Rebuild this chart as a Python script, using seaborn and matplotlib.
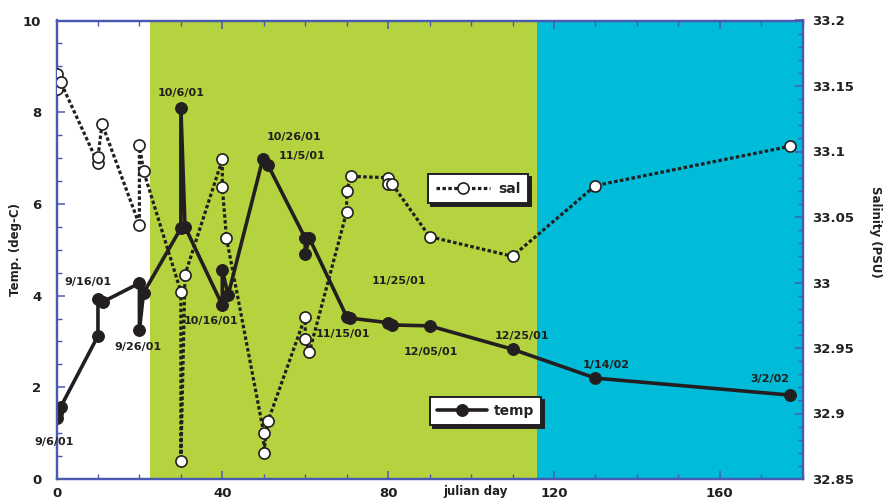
import matplotlib
matplotlib.use("Agg")
import matplotlib.pyplot as plt
import seaborn as sns
from matplotlib.ticker import MultipleLocator

# ---------------- data ----------------
temp_day = [0, 0, 1, 10, 10, 11.3, 20, 20, 21, 30, 30, 31, 40, 40, 41.4,
            49.8, 51, 60, 60, 61, 70, 70.7, 80, 81, 90, 110, 130, 177]
temp_val = [1.33, 1.44, 1.57, 3.12, 3.92, 3.87, 4.27, 3.25, 4.06, 5.47, 8.10, 5.50,
            3.79, 4.56, 4.01, 6.99, 6.85, 5.25, 4.91, 5.25, 3.54, 3.51, 3.41, 3.36,
            3.34, 2.83, 2.20, 1.83]

sal_day = [0, 0, 1, 10, 10, 11, 20, 20, 21, 30, 30, 31, 40, 40, 41, 50, 50, 51,
           60, 60, 61, 70, 70, 71, 80, 80, 81, 90, 110, 130, 177]
sal_val = [33.159, 33.148, 33.153, 33.091, 33.096, 33.121, 33.044, 33.105, 33.085,
           32.993, 32.864, 33.006, 33.094, 33.073, 33.034, 32.885, 32.870, 32.894,
           32.974, 32.957, 32.947, 33.054, 33.070, 33.081, 33.080, 33.075, 33.075,
           33.035, 33.020, 33.074, 33.104]

date_labels = ["9/6/01", "9/16/01", "9/26/01", "10/6/01", "10/16/01", "10/26/01",
               "11/5/01", "11/15/01", "11/25/01", "12/05/01", "12/25/01", "1/14/02",
               "3/2/02"]
# label placement (temperature-axis coordinates)
label_pos = [(-0.5, 0.81), (7.6, 4.30), (19.7, 2.88), (30.0, 8.42), (37.3, 3.45),
             (57.3, 7.46), (59.2, 7.04), (69.1, 3.16), (82.6, 4.32), (90.3, 2.77),
             (112.3, 3.12), (132.5, 2.49), (172.1, 2.18)]

x_ticks = [0, 40, 80, 120, 160]
x_ticklabels = ["0", "40", "80", "120", "160"]
temp_ticks = [0, 2, 4, 6, 8, 10]
temp_ticklabels = ["0", "2", "4", "6", "8", "10"]
sal_ticks = [32.85, 32.9, 32.95, 33.0, 33.05, 33.1, 33.15, 33.2]
sal_ticklabels = ["32.85", "32.9", "32.95", "33", "33.05", "33.1", "33.15", "33.2"]

season_edges = [22.5, 116, 180]
season_colors = ["#b5d33e", "#00bcd8"]

# ---------------- style ----------------
sns.set_style("ticks")
plt.rcParams["font.family"] = ["DejaVu Sans"]
plt.rcParams["font.weight"] = "bold"
plt.rcParams["axes.labelweight"] = "bold"

ink = "#231f20"
axis_blue = "#4a5ab0"

fig = plt.figure(figsize=(8.83, 4.99), dpi=100)
ax = fig.add_axes([56.5 / 883, 1 - 479 / 499, (802.7 - 56.5) / 883, (479 - 20.5) / 499])
ax.set_facecolor("white")

for i in range(2):
    ax.axvspan(season_edges[i], season_edges[i + 1], color=season_colors[i], lw=0, zorder=0)

sns.lineplot(x=temp_day, y=temp_val, ax=ax, sort=False, estimator=None, errorbar=None,
             color=ink, lw=2.6, marker="o", markersize=8.5, markeredgecolor=ink,
             markerfacecolor=ink, zorder=3)
temp_line = ax.get_lines()[-1]

ax.set_xlim(0, 180)
ax.set_ylim(0, 10)
ax.set_xticks(x_ticks)
ax.set_xticklabels(x_ticklabels)
ax.xaxis.set_minor_locator(MultipleLocator(10))
ax.set_yticks(temp_ticks)
ax.set_yticklabels(temp_ticklabels)
ax.yaxis.set_minor_locator(MultipleLocator(0.5))

ax2 = ax.twinx()
sns.lineplot(x=sal_day, y=sal_val, ax=ax2, sort=False, estimator=None, errorbar=None,
             color=ink, lw=2.3, linestyle=(0, (1.1, 0.75)), marker="o", markersize=8,
             markerfacecolor="white", markeredgecolor=ink, markeredgewidth=1.2, zorder=3)
sal_line = ax2.get_lines()[-1]
ax2.set_ylim(32.85, 33.2)
ax2.set_yticks(sal_ticks)
ax2.set_yticklabels(sal_ticklabels)
ax2.yaxis.set_minor_locator(MultipleLocator(0.01))
ax2.set_ylim(32.85, 33.2)

# ticks and spines
for a in (ax, ax2):
    for s in a.spines.values():
        s.set_visible(True)
        s.set_color(axis_blue)
        s.set_linewidth(1.6)
ax.tick_params(axis="x", which="both", direction="in", top=True, bottom=True,
               color=axis_blue, labelcolor=ink, labelsize=9.5, pad=6)
ax.tick_params(axis="y", which="both", direction="in", left=True, right=False,
               color=axis_blue, labelcolor=ink, labelsize=9.5, pad=11)
ax2.tick_params(axis="y", which="both", direction="in", left=False, right=True,
                color=axis_blue, labelcolor=ink, labelsize=9.5, pad=7)
for a in (ax, ax2):
    a.tick_params(which="major", length=6, width=1.1)
    a.tick_params(which="minor", length=3.6, width=1.0)

# labels
ax.set_xlabel("julian day", fontsize=8.5, color=ink, fontweight="bold")
ax.xaxis.set_label_coords(0.562, -0.013)
ax.set_ylabel("Temp. (deg-C)", fontsize=8.5, color=ink, fontweight="bold",
              ha="center", va="center", rotation=90, rotation_mode="default")
ax.yaxis.set_label_coords(-0.055, 0.5)
ax2.set_ylabel("Salinity (PSU)", fontsize=8.5, color=ink, fontweight="bold",
               ha="center", va="center", rotation=270, rotation_mode="default")
ax2.yaxis.set_label_coords(1.098, 0.54)

# date annotations
for txt, (lx, ly) in zip(date_labels, label_pos):
    ax2.text(lx, ly, txt, transform=ax.transData, ha="center", va="center",
             fontsize=8, fontweight="bold", color=ink, zorder=5)

# legends
shadow = {"color": ink, "alpha": 1.0}
leg_sal = ax2.legend(handles=[sal_line], labels=["sal"], loc="upper left",
                     bbox_to_anchor=(428 / 883, 1 - 174 / 499), bbox_transform=fig.transFigure,
                     borderaxespad=0, fancybox=False, shadow=shadow, framealpha=1,
                     edgecolor=ink, facecolor="white", handlelength=3.9,
                     prop={"weight": "bold", "size": 10}, borderpad=0.55, handletextpad=0.6)
leg_sal.get_frame().set_linewidth(1.4)
ax2.add_artist(leg_sal)
leg_temp = ax2.legend(handles=[temp_line], labels=["temp"], loc="upper left",
                      bbox_to_anchor=(430 / 883, 1 - 397 / 499), bbox_transform=fig.transFigure,
                      borderaxespad=0, fancybox=False, shadow=shadow, framealpha=1,
                      edgecolor=ink, facecolor="white", handlelength=3.6,
                      prop={"weight": "bold", "size": 10}, borderpad=0.5, handletextpad=0.5)
leg_temp.get_frame().set_linewidth(1.4)

fig.savefig("out.png", dpi=100)
